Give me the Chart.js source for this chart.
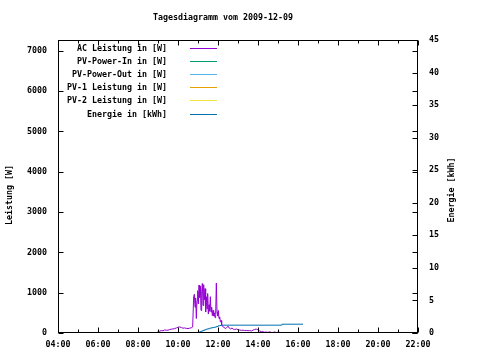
<!DOCTYPE html>
<html><head><meta charset="utf-8">
<script src="https://cdn.jsdelivr.net/npm/chart.js@4/dist/chart.umd.min.js"></script>
<style>html,body{margin:0;padding:0;background:#fff}#wrap{width:480px;height:360px}</style>
</head><body><div id="wrap"><canvas id="c" width="480" height="360"></canvas></div>
<script>
const chartTitle = "Tagesdiagramm vom 2009-12-09";
const leftAxisTitle = "Leistung [W]";
const rightAxisTitle = "Energie [kWh]";
const seriesLabels = ["AC Leistung in [W]","PV-Power-In in [W]","PV-Power-Out in [W]","PV-1 Leistung in [W]","PV-2 Leistung in [W]","Energie in [kWh]"];
const xTickHours = [4,6,8,10,12,14,16,18,20,22];
const leftTicks = [0,1000,2000,3000,4000,5000,6000,7000];
const rightTicks = [0,5,10,15,20,25,30,35,40,45];

const acTimes = ["08:50","08:55","09:00","09:05","09:10","09:15","09:20","09:25","09:30","09:35","09:40","09:45","09:50","09:55","10:00","10:05","10:10","10:15","10:20","10:25","10:30","10:35","10:40","10:44","10:47","10:49","10:51","10:53","10:55","10:57","10:59","11:01","11:03","11:05","11:07","11:09","11:11","11:13","11:15","11:17","11:19","11:21","11:23","11:25","11:27","11:29","11:31","11:33","11:35","11:37","11:39","11:41","11:43","11:45","11:47","11:49","11:51","11:53","11:55","11:57","11:59","12:01","12:03","12:05","12:07","12:09","12:11","12:14","12:18","12:22","12:26","12:30","12:34","12:38","12:42","12:46","12:50","12:55","13:00","13:05","13:10","13:15","13:20","13:25","13:30","13:35","13:40","13:45","13:50","13:55","14:00","14:05","14:10","14:15","14:20","14:25","14:30","14:35","14:40","14:45","14:50","14:55","15:00","15:05","15:10","15:15","15:20"];
const acValues = [0,5,25,45,60,55,75,70,70,85,95,100,110,125,145,150,135,120,125,115,110,120,130,150,900,960,640,870,360,800,1050,720,1190,880,1160,560,1020,1230,680,1200,820,1100,520,900,600,980,470,700,540,900,520,640,430,560,420,500,380,460,1240,520,420,560,360,400,280,310,200,160,140,110,130,170,120,100,125,95,85,100,80,75,65,70,60,65,55,60,50,70,90,95,80,50,35,30,20,25,15,30,10,15,25,10,20,15,10,15,0];

const energyTimes = ["09:50","10:55","11:00","11:05","11:10","11:15","11:20","11:25","11:30","11:35","11:40","11:45","11:50","11:55","12:00","12:05","12:10","15:10","15:12","16:15"];
const energyValues = [0,0,0.1,0.2,0.3,0.4,0.5,0.6,0.65,0.75,0.8,0.85,0.9,1.0,1.1,1.15,1.2,1.2,1.35,1.35];

function toHours(t){const p=t.split(':');return +p[0]+(+p[1])/60;}
function pts(times, vals){return times.map((t,i)=>({x:toHours(t),y:vals[i]}));}

const FAMILY = "'DejaVu Sans Mono', monospace";
const FS = 8.3;
const FONT = "bold " + FS + "px " + FAMILY;

const framePlugin = {
  id:'frame',
  afterDatasetsDraw(chart){
    const {ctx, chartArea:a, scales} = chart;
    const L=Math.round(a.left)+0.5, R=Math.round(a.right)-0.5, T=Math.round(a.top)+0.5, B=Math.round(a.bottom)-0.5;
    ctx.save();
    ctx.strokeStyle='#000'; ctx.lineWidth=1;
    const line=(x1,y1,x2,y2)=>{ctx.beginPath();ctx.moveTo(x1,y1);ctx.lineTo(x2,y2);ctx.stroke();};
    ctx.strokeRect(L,T,R-L,B-T);
    for(let h=xTickHours[0]; h<=xTickHours[xTickHours.length-1]; h++){
      const x=Math.round(scales.x.getPixelForValue(h))+0.5;
      const len = (h%2===0)?5:3;
      line(x,B,x,B-len); line(x,T,x,T+len);
    }
    leftTicks.forEach(v=>{const y=Math.round(scales.y.getPixelForValue(v))+0.5; line(L,y,L+5,y); line(R,y,R-5,y);});
    rightTicks.forEach(v=>{const y=Math.round(scales.y2.getPixelForValue(v))+0.5; line(R,y,R-5,y);});
    // legend
    ctx.font = FONT; ctx.fillStyle='#000'; ctx.textBaseline='middle'; ctx.textAlign='right';
    chart.data.datasets.forEach((ds,i)=>{
      const y = Math.round(48 + i*13.1)+0.5;
      ctx.fillText(ds.label, 167, y);
      ctx.strokeStyle = ds.borderColor; ctx.lineWidth=1;
      line(190,y,217,y);
    });
    // title
    ctx.textAlign='center';
    ctx.fillText(chartTitle, 223, 18);
    ctx.save(); ctx.translate(10,195); ctx.rotate(-Math.PI/2); ctx.fillText(leftAxisTitle,0,0); ctx.restore();
    ctx.save(); ctx.translate(452,190); ctx.rotate(-Math.PI/2); ctx.fillText(rightAxisTitle,0,0); ctx.restore();
    ctx.restore();
  }
};

const tickFont = {family: FAMILY, size: FS, weight:'bold'};
new Chart(document.getElementById('c'), {
  type:'line',
  data:{datasets:[
    {label:seriesLabels[0], data:pts(acTimes,acValues), borderColor:'#9400d3', yAxisID:'y'},
    {label:seriesLabels[1], data:[], borderColor:'#009e73', yAxisID:'y'},
    {label:seriesLabels[2], data:[], borderColor:'#56b4e9', yAxisID:'y'},
    {label:seriesLabels[3], data:[], borderColor:'#e69f00', yAxisID:'y'},
    {label:seriesLabels[4], data:[], borderColor:'#f0e442', yAxisID:'y'},
    {label:seriesLabels[5], data:pts(energyTimes,energyValues), borderColor:'#0072b2', yAxisID:'y2', stepped:true}
  ].map(d=>Object.assign({borderWidth:1, pointRadius:0, fill:false, tension:0}, d))},
  options:{
    responsive:false, animation:false, devicePixelRatio:1,
    layout:{padding:{top:40,left:0,right:0,bottom:0}},
    plugins:{legend:{display:false}, title:{display:false}, tooltip:{enabled:false}},
    scales:{
      x:{type:'linear', min:4, max:22, grid:{display:false, drawTicks:false}, border:{display:false},
        afterFit(s){s.height=27;},
        afterBuildTicks(s){s.ticks=xTickHours.map(v=>({value:v}));},
        ticks:{autoSkip:false, maxRotation:0, padding:7, color:'#000', font:tickFont,
          callback:(v)=>String(v).padStart(2,'0')+':00'}},
      y:{type:'linear', position:'left', min:0, max:7270, grid:{display:false, drawTicks:false}, border:{display:false},
        afterFit(s){s.width=58;},
        afterBuildTicks(s){s.ticks=leftTicks.map(v=>({value:v}));},
        ticks:{padding:11, color:'#000', font:tickFont, callback:(v)=>String(v)}},
      y2:{type:'linear', position:'right', min:0, max:45, grid:{display:false, drawTicks:false}, border:{display:false},
        afterFit(s){s.width=62;},
        afterBuildTicks(s){s.ticks=rightTicks.map(v=>({value:v}));},
        ticks:{padding:11, color:'#000', font:tickFont, callback:(v)=>String(v)}}
    }
  },
  plugins:[framePlugin]
});
</script></body></html>
